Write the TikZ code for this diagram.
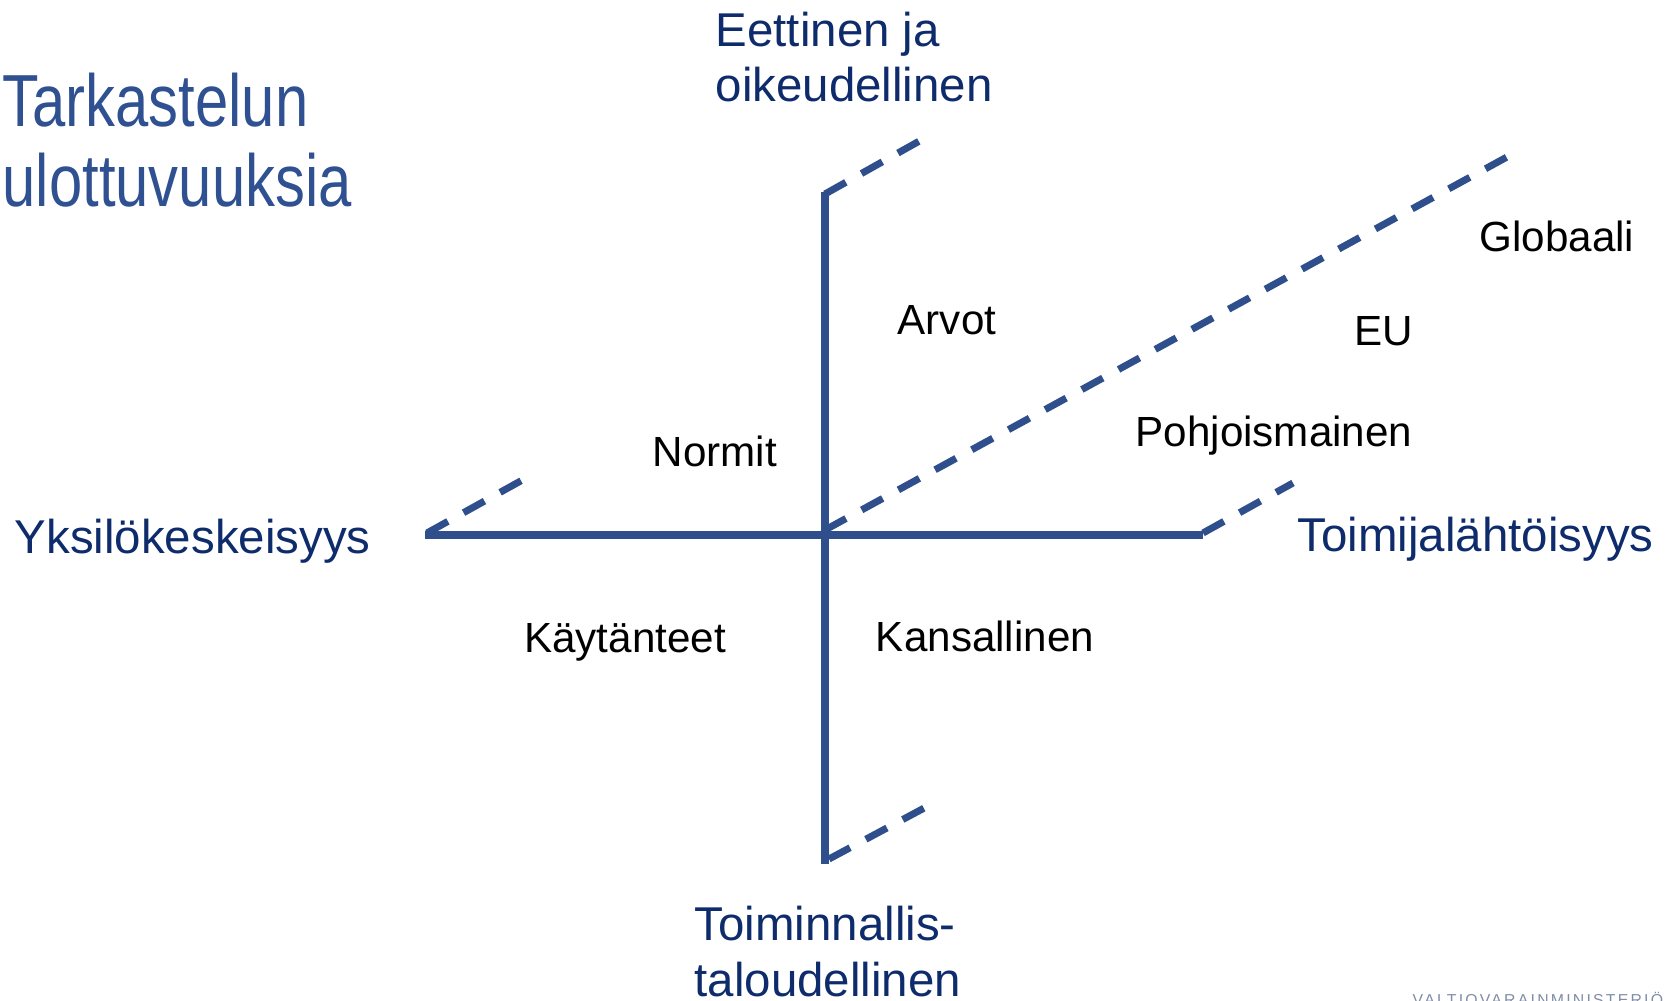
\documentclass[tikz,border=0pt]{standalone}
\usepackage{fontspec}
\setmainfont{Liberation Sans}
\newfontfamily\narrowfont{Liberation Sans}[FakeStretch=0.81]
\newfontfamily\logofont{Liberation Sans}[LetterSpace=14]
\usetikzlibrary{positioning}
\definecolor{Axis}{HTML}{2E4E8C}
\definecolor{Navy}{HTML}{0E2B6B}
\definecolor{TitleBlue}{HTML}{2F5091}
\definecolor{LogoGray}{HTML}{7F8DA6}
\tikzset{
  axisline/.style={draw=Axis, line width=2.2pt},
  depthline/.style={draw=Axis, line width=2pt, dash pattern=on 6.8pt off 5.1pt},
  pole/.style={color=Navy, font=\fontsize{13.5}{15.9}\selectfont, align=left, inner sep=0pt},
  region/.style={color=black, font=\fontsize{12}{14}\selectfont, inner sep=0pt, anchor=base},
}

\begin{document}
\begin{tikzpicture}
  \useasboundingbox (0,0) rectangle (16.73,10.01);

  \node[anchor=base west, color=TitleBlue, inner sep=0pt, align=left,
        font=\narrowfont\fontsize{21}{23}\selectfont] (title) at (0.02,7.94)
        {Tarkastelun\\ulottuvuuksia};

  % axes
  \coordinate (C) at (8.25,4.66);
  \coordinate (top) at (8.25,8.09);
  \coordinate (bottom) at (8.25,1.37);
  \coordinate (left) at (4.25,4.66);
  \coordinate (right) at (12.03,4.66);
  \coordinate (far) at (15.07,8.44);
  \draw[axisline] (top) -- (bottom);
  \draw[axisline] (left) -- (right);

  % depth
  \draw[depthline] (8.25,8.07) -- ++(0.98,0.55);
  \draw[depthline] (4.27,4.68) -- ++(0.99,0.55);
  \draw[depthline] (12.03,4.68) -- ++(0.9,0.5);
  \draw[depthline] (8.29,1.42) -- ++(0.99,0.53);
  \draw[depthline] (8.25,4.71) -- (far);

  \node[pole, anchor=base west] (ethic) at (7.15,8.99) {Eettinen ja\\oikeudellinen};
  \node[pole, anchor=base west] (indiv) at (0.14,4.47) {Yksilökeskeisyys};
  \node[pole, anchor=base west] (actor) at (12.97,4.49) {Toimijalähtöisyys};
  \node[pole, anchor=base west] (econ) at (6.94,0.05) {Toiminnallis-\\taloudellinen};

  \node[region] (arvot) at (9.47,6.66) {Arvot};
  \node[region] (normit) at (7.15,5.34) {Normit};
  \node[region] (kaytanteet) at (6.25,3.48) {Käytänteet};
  \node[region] (kansallinen) at (9.85,3.49) {Kansallinen};
  \node[region] (pohjoismainen) at (12.74,5.54) {Pohjoismainen};
  \node[region] (eu) at (13.84,6.55) {EU};
  \node[region] (globaali) at (15.57,7.49) {Globaali};

  \node[anchor=base west, color=LogoGray, inner sep=0pt,
        font=\logofont\fontsize{4.5}{5}\selectfont] (vm) at (14.12,-0.05) {VALTIOVARAINMINISTERIÖ};
\end{tikzpicture}
\end{document}
